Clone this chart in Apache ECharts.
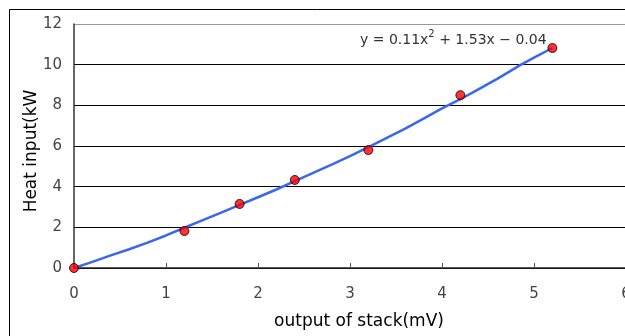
<!DOCTYPE html>
<html>
<head>
<meta charset="utf-8">
<script src="https://cdn.jsdelivr.net/npm/echarts@6/dist/echarts.min.js"></script>
<style>
html, body { margin: 0; padding: 0; background: #fff; }
#chart { width: 625px; height: 336px; }
</style>
</head>
<body>
<div id="chart"></div>
<script>
// measured points
var stackOutput = [0, 1.2, 1.8, 2.4, 3.2, 4.2, 5.2];
var heatInput = [0, 1.82, 3.15, 4.33, 5.8, 8.5, 10.82];

// trend line
var trendX = [0, 0.2, 0.4, 0.6, 0.8, 1.0, 1.2, 1.4, 1.6, 1.8, 2.0, 2.2, 2.4, 2.6, 2.8, 3.0, 3.2, 3.4, 3.6, 3.8, 4.0, 4.2, 4.4, 4.6, 4.85, 5.0, 5.2];
var trendY = [0, 0.3, 0.62, 0.92, 1.25, 1.6, 1.98, 2.35, 2.72, 3.1, 3.48, 3.86, 4.27, 4.68, 5.08, 5.5, 5.95, 6.4, 6.85, 7.35, 7.85, 8.3, 8.8, 9.3, 9.98, 10.35, 10.82];

var xTicks = [0, 1, 2, 3, 4, 5, 6];
var yTicks = [0, 2, 4, 6, 8, 10, 12];

var chart = echarts.init(document.getElementById('chart'));

var font = 'DejaVu Sans, sans-serif';

var option = {
    backgroundColor: '#fff',
    animation: false,
    grid: {
        left: 74,
        top: 24,
        right: -1,
        bottom: 68,
        outerBoundsMode: 'none'
    },
    xAxis: {
        type: 'value',
        min: xTicks[0],
        max: xTicks[xTicks.length - 1],
        interval: 1,
        name: 'output of stack(mV)',
        nameLocation: 'middle',
        nameGap: 45,
        nameTextStyle: { color: '#000', fontSize: 17, fontFamily: font, padding: [0, 0, 0, 18] },
        axisLine: { lineStyle: { color: '#222', width: 1.5 } },
        axisTick: { inside: true, length: 5, lineStyle: { color: '#555' } },
        axisLabel: { color: '#444', fontSize: 15, margin: 19, fontFamily: font },
        splitLine: { show: false }
    },
    yAxis: {
        type: 'value',
        min: yTicks[0],
        max: yTicks[yTicks.length - 1],
        interval: 2,
        axisLine: { show: true, lineStyle: { color: '#333', width: 1.5 } },
        axisTick: { show: false },
        axisLabel: { color: '#444', fontSize: 15, margin: 12, fontFamily: font },
        splitLine: {
            show: true,
            lineStyle: { color: ['#000', '#000', '#000', '#000', '#000', '#000', '#999'], width: 1 }
        }
    },
    graphic: [
        {
            type: 'rect',
            shape: { x: 9.5, y: 9.5, width: 700, height: 400 },
            style: { fill: null, stroke: '#000', lineWidth: 1 },
            silent: true
        },
        {
            // y axis title
            type: 'text',
            x: 32,
            y: 151,
            rotation: Math.PI / 2,
            style: {
                text: 'Heat input(kW',
                fontSize: 17,
                fontFamily: font,
                fill: '#000',
                align: 'center',
                verticalAlign: 'middle'
            }
        },
        {
            type: 'text',
            left: 360,
            top: 29,
            style: {
                text: '{a|y = 0.11x}{s|2}{a| + 1.53x \u2212 0.04}',
                rich: {
                    a: { fontSize: 14, fill: '#333', fontFamily: font, verticalAlign: 'bottom' },
                    s: { fontSize: 10, fill: '#333', fontFamily: font, verticalAlign: 'top', padding: [0, 0, 8, 0] }
                }
            }
        }
    ],
    series: [
        {
            type: 'line',
            data: trendX.map(function (x, i) { return [x, trendY[i]]; }),
            showSymbol: false,
            lineStyle: { color: '#3a66f0', width: 2.5 },
            z: 2
        },
        {
            type: 'scatter',
            data: stackOutput.map(function (x, i) { return [x, heatInput[i]]; }),
            symbolSize: 9,
            itemStyle: { color: '#ff0000', borderColor: '#000', borderWidth: 1 },
            z: 3
        }
    ]
};

chart.setOption(option);
</script>
</body>
</html>
